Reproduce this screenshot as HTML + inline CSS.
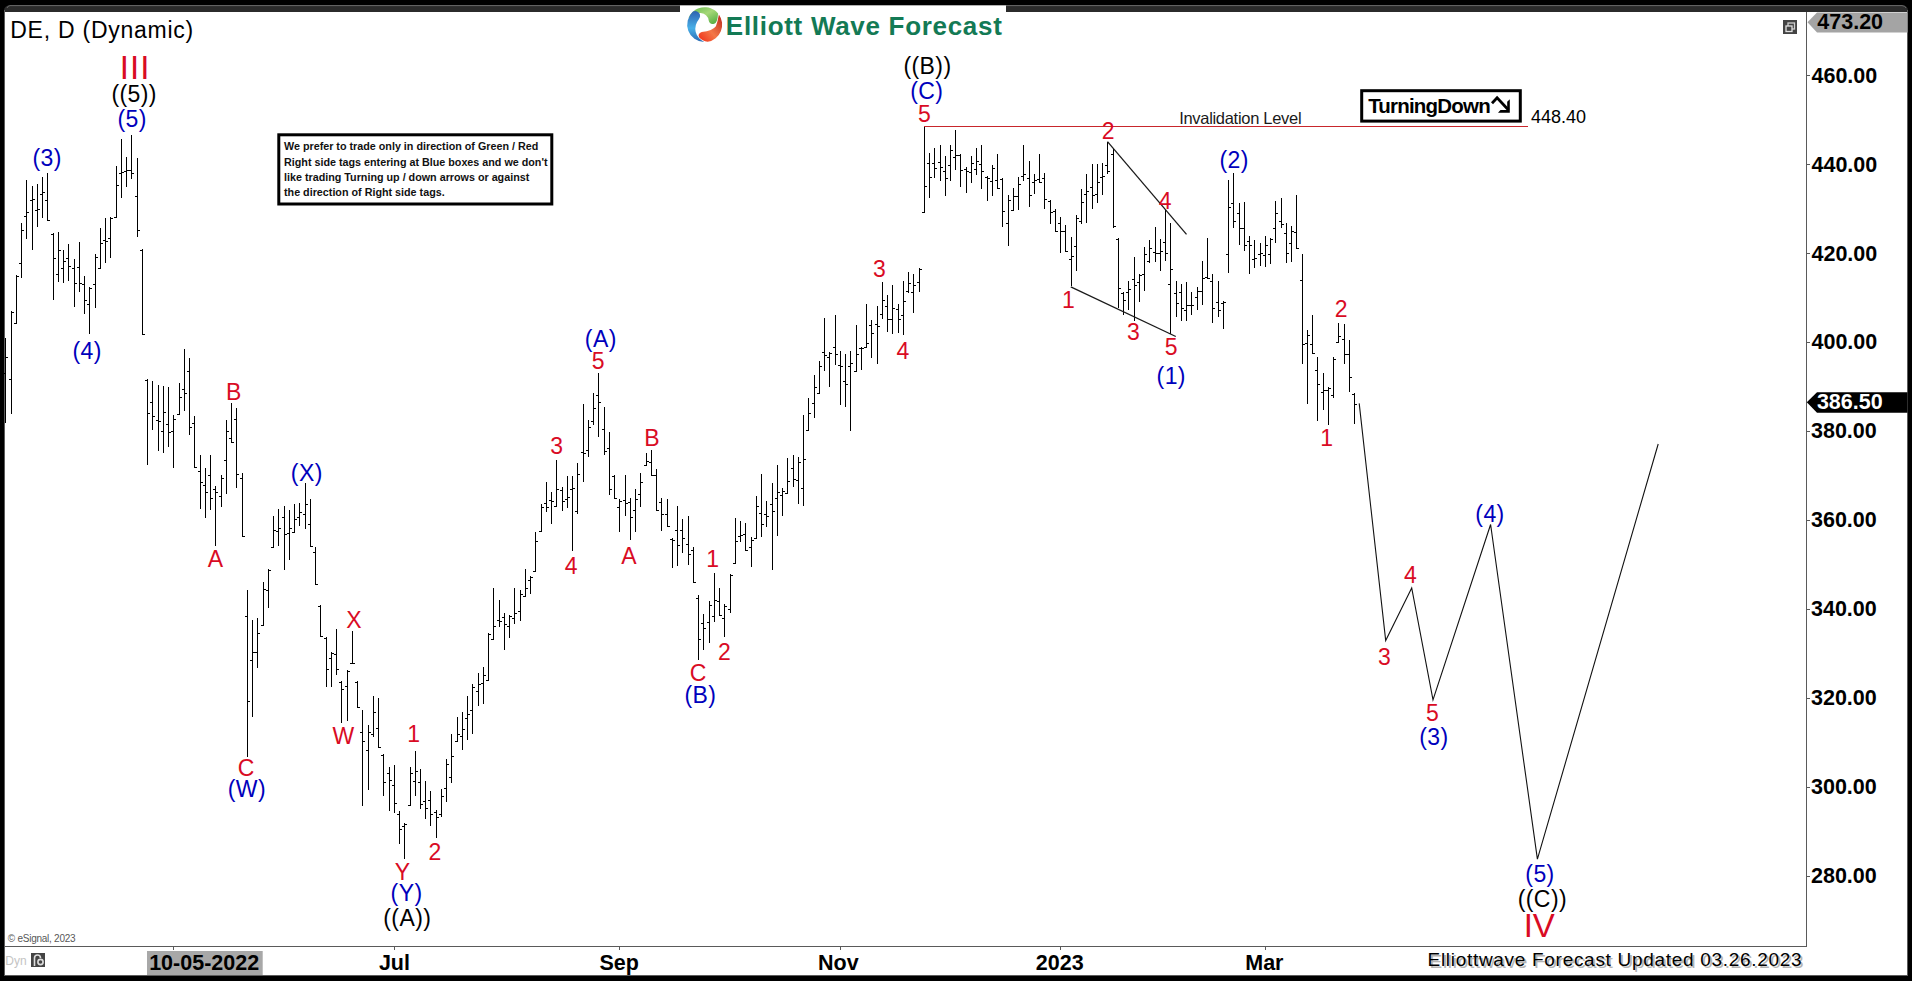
<!DOCTYPE html><html><head><meta charset="utf-8"><style>html,body{margin:0;padding:0;background:#000;width:1912px;height:981px;overflow:hidden}svg{position:absolute;left:0;top:0;display:block}text{font-family:"Liberation Sans", sans-serif;white-space:pre}</style></head><body>
<svg width="1912" height="981" viewBox="0 0 1912 981">
<rect x="0" y="0" width="1912" height="981" fill="#000"/>
<path d="M4 11 Q4 5.5 9.5 5.5 L1902.5 5.5 Q1908 5.5 1908 11 L1908 976 L4 976 Z" fill="#2b2b2b"/>
<path d="M7 8 Q7.5 5.8 10 5.6 L1902 5.6 Q1905.5 5.8 1906 8" fill="none" stroke="#6a6a6a" stroke-width="1"/>
<g shape-rendering="crispEdges"><rect x="4" y="10" width="1" height="966" fill="#5c5c5c"/><rect x="1907" y="10" width="1" height="966" fill="#5c5c5c"/><rect x="4" y="975" width="1904" height="1" fill="#5c5c5c"/>
<rect x="5" y="12" width="1902" height="963" fill="#fff"/></g>
<rect x="680" y="5.5" width="326" height="8" fill="#fff"/>
<g shape-rendering="crispEdges">
<rect x="1806" y="12" width="1" height="935" fill="#5a5a5a"/>
<rect x="5" y="946" width="1802" height="1" fill="#5a5a5a"/>
<rect x="173" y="946" width="1" height="4" fill="#5a5a5a"/>
<rect x="394" y="946" width="1" height="4" fill="#5a5a5a"/>
<rect x="619" y="946" width="1" height="4" fill="#5a5a5a"/>
<rect x="840" y="946" width="1" height="4" fill="#5a5a5a"/>
<rect x="1060" y="946" width="1" height="4" fill="#5a5a5a"/>
<rect x="1265" y="946" width="1" height="4" fill="#5a5a5a"/>
<rect x="1806" y="75" width="4" height="1" fill="#5a5a5a"/>
<rect x="1806" y="164" width="4" height="1" fill="#5a5a5a"/>
<rect x="1806" y="253" width="4" height="1" fill="#5a5a5a"/>
<rect x="1806" y="342" width="4" height="1" fill="#5a5a5a"/>
<rect x="1806" y="431" width="4" height="1" fill="#5a5a5a"/>
<rect x="1806" y="520" width="4" height="1" fill="#5a5a5a"/>
<rect x="1806" y="609" width="4" height="1" fill="#5a5a5a"/>
<rect x="1806" y="698" width="4" height="1" fill="#5a5a5a"/>
<rect x="1806" y="787" width="4" height="1" fill="#5a5a5a"/>
<rect x="1806" y="876" width="4" height="1" fill="#5a5a5a"/>
</g>
<path shape-rendering="crispEdges" fill="#000" d="M5 338h1v85h-1zM3 373h2v1h-2zM6 357h2v1h-2zM11 311h1v103h-1zM9 379h2v1h-2zM12 312h2v1h-2zM16 275h1v49h-1zM14 323h2v1h-2zM17 276h2v1h-2zM21 223h1v55h-1zM19 263h2v1h-2zM22 230h2v1h-2zM26 180h1v59h-1zM24 216h2v1h-2zM27 212h2v1h-2zM32 186h1v64h-1zM30 200h2v1h-2zM33 199h2v1h-2zM37 184h1v43h-1zM35 210h2v1h-2zM38 209h2v1h-2zM42 177h1v41h-1zM40 194h2v1h-2zM43 192h2v1h-2zM47 173h1v48h-1zM45 200h2v1h-2zM48 220h2v1h-2zM53 233h1v67h-1zM51 234h2v1h-2zM54 258h2v1h-2zM58 232h1v50h-1zM56 274h2v1h-2zM59 250h2v1h-2zM63 250h1v33h-1zM61 268h2v1h-2zM64 261h2v1h-2zM68 244h1v37h-1zM66 258h2v1h-2zM69 266h2v1h-2zM74 259h1v48h-1zM72 268h2v1h-2zM75 283h2v1h-2zM79 242h1v50h-1zM77 267h2v1h-2zM80 283h2v1h-2zM84 276h1v38h-1zM82 284h2v1h-2zM85 300h2v1h-2zM89 287h1v47h-1zM87 304h2v1h-2zM90 288h2v1h-2zM95 254h1v54h-1zM93 284h2v1h-2zM96 257h2v1h-2zM100 228h1v41h-1zM98 268h2v1h-2zM101 243h2v1h-2zM105 218h1v45h-1zM103 240h2v1h-2zM106 241h2v1h-2zM110 217h1v41h-1zM108 238h2v1h-2zM111 218h2v1h-2zM116 166h1v52h-1zM114 217h2v1h-2zM117 185h2v1h-2zM121 139h1v59h-1zM119 173h2v1h-2zM122 172h2v1h-2zM126 157h1v30h-1zM124 171h2v1h-2zM127 170h2v1h-2zM131 135h1v44h-1zM129 170h2v1h-2zM132 173h2v1h-2zM137 158h1v79h-1zM135 196h2v1h-2zM138 230h2v1h-2zM142 249h1v86h-1zM140 250h2v1h-2zM143 334h2v1h-2zM147 379h1v86h-1zM145 380h2v1h-2zM148 413h2v1h-2zM152 381h1v49h-1zM150 402h2v1h-2zM153 416h2v1h-2zM158 385h1v66h-1zM156 420h2v1h-2zM159 421h2v1h-2zM163 386h1v67h-1zM161 431h2v1h-2zM164 412h2v1h-2zM168 387h1v60h-1zM166 424h2v1h-2zM169 432h2v1h-2zM173 415h1v53h-1zM171 431h2v1h-2zM174 419h2v1h-2zM179 383h1v32h-1zM177 414h2v1h-2zM180 397h2v1h-2zM184 349h1v62h-1zM182 389h2v1h-2zM185 393h2v1h-2zM189 358h1v77h-1zM187 371h2v1h-2zM190 427h2v1h-2zM194 416h1v52h-1zM192 423h2v1h-2zM195 467h2v1h-2zM200 455h1v54h-1zM198 471h2v1h-2zM201 482h2v1h-2zM205 468h1v50h-1zM203 485h2v1h-2zM206 492h2v1h-2zM210 455h1v55h-1zM208 475h2v1h-2zM211 498h2v1h-2zM215 486h1v60h-1zM213 489h2v1h-2zM216 492h2v1h-2zM221 475h1v32h-1zM219 496h2v1h-2zM222 478h2v1h-2zM226 420h1v74h-1zM224 460h2v1h-2zM227 431h2v1h-2zM231 403h1v40h-1zM229 438h2v1h-2zM232 442h2v1h-2zM236 408h1v80h-1zM234 419h2v1h-2zM237 474h2v1h-2zM242 473h1v64h-1zM240 478h2v1h-2zM243 536h2v1h-2zM247 590h1v167h-1zM245 616h2v1h-2zM248 701h2v1h-2zM252 620h1v97h-1zM250 660h2v1h-2zM253 652h2v1h-2zM257 618h1v50h-1zM255 652h2v1h-2zM258 633h2v1h-2zM263 582h1v44h-1zM261 625h2v1h-2zM264 589h2v1h-2zM268 569h1v39h-1zM266 590h2v1h-2zM269 570h2v1h-2zM273 516h1v32h-1zM271 547h2v1h-2zM274 530h2v1h-2zM278 509h1v37h-1zM276 531h2v1h-2zM279 528h2v1h-2zM284 506h1v64h-1zM282 517h2v1h-2zM285 534h2v1h-2zM289 510h1v50h-1zM287 533h2v1h-2zM290 528h2v1h-2zM294 504h1v29h-1zM292 532h2v1h-2zM295 519h2v1h-2zM299 503h1v23h-1zM297 517h2v1h-2zM300 512h2v1h-2zM305 483h1v46h-1zM303 514h2v1h-2zM306 504h2v1h-2zM310 499h1v48h-1zM308 524h2v1h-2zM311 546h2v1h-2zM315 547h1v38h-1zM313 552h2v1h-2zM316 584h2v1h-2zM320 605h1v32h-1zM318 606h2v1h-2zM321 636h2v1h-2zM326 637h1v50h-1zM324 638h2v1h-2zM327 669h2v1h-2zM331 652h1v35h-1zM329 658h2v1h-2zM332 653h2v1h-2zM336 629h1v46h-1zM334 654h2v1h-2zM337 669h2v1h-2zM341 681h1v42h-1zM339 682h2v1h-2zM342 689h2v1h-2zM347 670h1v51h-1zM345 686h2v1h-2zM348 671h2v1h-2zM352 631h1v33h-1zM350 663h2v1h-2zM353 663h2v1h-2zM357 681h1v27h-1zM355 682h2v1h-2zM358 707h2v1h-2zM362 710h1v96h-1zM360 732h2v1h-2zM363 741h2v1h-2zM368 725h1v65h-1zM366 750h2v1h-2zM369 732h2v1h-2zM373 696h1v41h-1zM371 734h2v1h-2zM374 712h2v1h-2zM378 698h1v50h-1zM376 728h2v1h-2zM379 747h2v1h-2zM383 754h1v42h-1zM381 755h2v1h-2zM384 782h2v1h-2zM389 767h1v44h-1zM387 773h2v1h-2zM390 780h2v1h-2zM394 765h1v48h-1zM392 785h2v1h-2zM395 803h2v1h-2zM399 811h1v33h-1zM397 814h2v1h-2zM400 829h2v1h-2zM404 823h1v36h-1zM402 826h2v1h-2zM405 824h2v1h-2zM410 767h1v39h-1zM408 805h2v1h-2zM411 773h2v1h-2zM415 751h1v45h-1zM413 781h2v1h-2zM416 771h2v1h-2zM420 769h1v40h-1zM418 782h2v1h-2zM421 804h2v1h-2zM425 781h1v38h-1zM423 801h2v1h-2zM426 808h2v1h-2zM430 791h1v35h-1zM428 800h2v1h-2zM431 814h2v1h-2zM436 810h1v28h-1zM434 812h2v1h-2zM437 817h2v1h-2zM441 789h1v28h-1zM439 814h2v1h-2zM442 796h2v1h-2zM446 759h1v43h-1zM444 788h2v1h-2zM447 764h2v1h-2zM451 734h1v49h-1zM449 777h2v1h-2zM452 756h2v1h-2zM457 717h1v25h-1zM455 741h2v1h-2zM458 734h2v1h-2zM462 712h1v38h-1zM460 736h2v1h-2zM463 729h2v1h-2zM467 696h1v44h-1zM465 718h2v1h-2zM468 714h2v1h-2zM472 684h1v50h-1zM470 710h2v1h-2zM473 687h2v1h-2zM478 673h1v33h-1zM476 691h2v1h-2zM479 684h2v1h-2zM483 667h1v37h-1zM481 683h2v1h-2zM484 675h2v1h-2zM488 633h1v48h-1zM486 680h2v1h-2zM489 634h2v1h-2zM493 588h1v52h-1zM491 639h2v1h-2zM494 626h2v1h-2zM499 600h1v27h-1zM497 620h2v1h-2zM500 621h2v1h-2zM504 613h1v37h-1zM502 617h2v1h-2zM505 624h2v1h-2zM509 615h1v23h-1zM507 626h2v1h-2zM510 616h2v1h-2zM514 588h1v36h-1zM512 618h2v1h-2zM515 613h2v1h-2zM520 590h1v31h-1zM518 611h2v1h-2zM521 594h2v1h-2zM525 569h1v28h-1zM523 596h2v1h-2zM526 588h2v1h-2zM530 576h1v18h-1zM528 580h2v1h-2zM531 577h2v1h-2zM535 532h1v40h-1zM533 571h2v1h-2zM536 541h2v1h-2zM541 504h1v28h-1zM539 531h2v1h-2zM542 507h2v1h-2zM546 482h1v30h-1zM544 503h2v1h-2zM547 507h2v1h-2zM551 492h1v32h-1zM549 500h2v1h-2zM552 501h2v1h-2zM556 460h1v47h-1zM554 506h2v1h-2zM557 489h2v1h-2zM562 487h1v24h-1zM560 490h2v1h-2zM563 501h2v1h-2zM567 476h1v32h-1zM565 499h2v1h-2zM568 497h2v1h-2zM572 476h1v75h-1zM570 489h2v1h-2zM573 488h2v1h-2zM577 463h1v51h-1zM575 511h2v1h-2zM578 474h2v1h-2zM583 404h1v78h-1zM581 452h2v1h-2zM584 453h2v1h-2zM588 420h1v37h-1zM586 450h2v1h-2zM589 427h2v1h-2zM593 393h1v32h-1zM591 421h2v1h-2zM594 408h2v1h-2zM598 373h1v64h-1zM596 395h2v1h-2zM599 402h2v1h-2zM604 407h1v48h-1zM602 429h2v1h-2zM605 451h2v1h-2zM609 432h1v63h-1zM607 448h2v1h-2zM610 489h2v1h-2zM614 475h1v24h-1zM612 476h2v1h-2zM615 498h2v1h-2zM619 499h1v33h-1zM617 507h2v1h-2zM620 501h2v1h-2zM625 475h1v41h-1zM623 500h2v1h-2zM626 503h2v1h-2zM630 498h1v42h-1zM628 502h2v1h-2zM631 517h2v1h-2zM635 489h1v43h-1zM633 510h2v1h-2zM636 499h2v1h-2zM640 473h1v34h-1zM638 494h2v1h-2zM641 482h2v1h-2zM646 453h1v13h-1zM644 465h2v1h-2zM647 461h2v1h-2zM651 450h1v26h-1zM649 462h2v1h-2zM652 475h2v1h-2zM656 469h1v42h-1zM654 475h2v1h-2zM657 510h2v1h-2zM661 498h1v33h-1zM659 502h2v1h-2zM662 514h2v1h-2zM667 499h1v28h-1zM665 514h2v1h-2zM668 526h2v1h-2zM672 538h1v30h-1zM670 539h2v1h-2zM673 540h2v1h-2zM677 506h1v60h-1zM675 530h2v1h-2zM678 545h2v1h-2zM682 519h1v34h-1zM680 530h2v1h-2zM683 538h2v1h-2zM688 516h1v49h-1zM686 544h2v1h-2zM689 554h2v1h-2zM693 547h1v36h-1zM691 550h2v1h-2zM694 582h2v1h-2zM698 595h1v65h-1zM696 598h2v1h-2zM699 639h2v1h-2zM703 614h1v36h-1zM701 623h2v1h-2zM704 628h2v1h-2zM709 601h1v42h-1zM707 622h2v1h-2zM710 605h2v1h-2zM714 573h1v49h-1zM712 616h2v1h-2zM715 600h2v1h-2zM719 588h1v28h-1zM717 601h2v1h-2zM720 615h2v1h-2zM724 604h1v33h-1zM722 618h2v1h-2zM725 606h2v1h-2zM730 574h1v39h-1zM728 609h2v1h-2zM731 575h2v1h-2zM735 518h1v46h-1zM733 563h2v1h-2zM736 541h2v1h-2zM740 521h1v21h-1zM738 536h2v1h-2zM741 535h2v1h-2zM745 523h1v28h-1zM743 534h2v1h-2zM746 550h2v1h-2zM751 537h1v30h-1zM749 547h2v1h-2zM752 540h2v1h-2zM756 496h1v43h-1zM754 538h2v1h-2zM757 506h2v1h-2zM761 474h1v63h-1zM759 513h2v1h-2zM762 524h2v1h-2zM766 501h1v26h-1zM764 514h2v1h-2zM767 516h2v1h-2zM772 483h1v87h-1zM770 504h2v1h-2zM773 511h2v1h-2zM777 465h1v71h-1zM775 498h2v1h-2zM778 492h2v1h-2zM782 488h1v28h-1zM780 495h2v1h-2zM783 491h2v1h-2zM787 458h1v36h-1zM785 493h2v1h-2zM788 481h2v1h-2zM793 455h1v32h-1zM791 468h2v1h-2zM794 479h2v1h-2zM798 457h1v47h-1zM796 480h2v1h-2zM799 462h2v1h-2zM803 415h1v91h-1zM801 488h2v1h-2zM804 459h2v1h-2zM808 398h1v33h-1zM806 430h2v1h-2zM809 413h2v1h-2zM814 375h1v43h-1zM812 403h2v1h-2zM815 387h2v1h-2zM819 361h1v33h-1zM817 393h2v1h-2zM820 366h2v1h-2zM824 318h1v53h-1zM822 352h2v1h-2zM825 355h2v1h-2zM829 352h1v35h-1zM827 357h2v1h-2zM830 353h2v1h-2zM835 315h1v50h-1zM833 347h2v1h-2zM836 354h2v1h-2zM840 351h1v54h-1zM838 365h2v1h-2zM841 366h2v1h-2zM845 354h1v53h-1zM843 381h2v1h-2zM846 384h2v1h-2zM850 351h1v80h-1zM848 366h2v1h-2zM851 363h2v1h-2zM856 325h1v47h-1zM854 371h2v1h-2zM857 354h2v1h-2zM861 347h1v23h-1zM859 348h2v1h-2zM862 348h2v1h-2zM866 304h1v44h-1zM864 347h2v1h-2zM867 343h2v1h-2zM871 320h1v38h-1zM869 325h2v1h-2zM872 333h2v1h-2zM877 306h1v58h-1zM875 324h2v1h-2zM878 326h2v1h-2zM882 282h1v37h-1zM880 314h2v1h-2zM883 300h2v1h-2zM887 295h1v37h-1zM885 306h2v1h-2zM888 319h2v1h-2zM892 285h1v49h-1zM890 319h2v1h-2zM893 308h2v1h-2zM898 304h1v29h-1zM896 309h2v1h-2zM899 319h2v1h-2zM903 281h1v54h-1zM901 315h2v1h-2zM904 301h2v1h-2zM908 272h1v21h-1zM906 291h2v1h-2zM909 283h2v1h-2zM913 274h1v39h-1zM911 292h2v1h-2zM914 285h2v1h-2zM919 268h1v24h-1zM917 282h2v1h-2zM920 269h2v1h-2zM924 127h1v86h-1zM922 212h2v1h-2zM925 186h2v1h-2zM929 153h1v45h-1zM927 163h2v1h-2zM930 177h2v1h-2zM934 148h1v30h-1zM932 163h2v1h-2zM935 168h2v1h-2zM940 145h1v36h-1zM938 162h2v1h-2zM941 167h2v1h-2zM945 156h1v40h-1zM943 171h2v1h-2zM946 178h2v1h-2zM950 145h1v36h-1zM948 165h2v1h-2zM951 150h2v1h-2zM955 130h1v40h-1zM953 157h2v1h-2zM956 155h2v1h-2zM960 154h1v33h-1zM958 155h2v1h-2zM961 170h2v1h-2zM966 167h1v26h-1zM964 169h2v1h-2zM967 171h2v1h-2zM971 156h1v27h-1zM969 172h2v1h-2zM972 163h2v1h-2zM976 148h1v27h-1zM974 169h2v1h-2zM977 161h2v1h-2zM981 145h1v44h-1zM979 164h2v1h-2zM982 171h2v1h-2zM987 176h1v25h-1zM985 177h2v1h-2zM988 178h2v1h-2zM992 165h1v31h-1zM990 181h2v1h-2zM993 168h2v1h-2zM997 154h1v35h-1zM995 180h2v1h-2zM998 188h2v1h-2zM1002 178h1v49h-1zM1000 179h2v1h-2zM1003 211h2v1h-2zM1008 195h1v51h-1zM1006 223h2v1h-2zM1009 200h2v1h-2zM1013 188h1v23h-1zM1011 210h2v1h-2zM1014 196h2v1h-2zM1018 177h1v33h-1zM1016 196h2v1h-2zM1019 184h2v1h-2zM1023 145h1v36h-1zM1021 176h2v1h-2zM1024 174h2v1h-2zM1029 161h1v46h-1zM1027 178h2v1h-2zM1030 195h2v1h-2zM1034 174h1v20h-1zM1032 182h2v1h-2zM1035 180h2v1h-2zM1039 154h1v29h-1zM1037 179h2v1h-2zM1040 182h2v1h-2zM1044 173h1v36h-1zM1042 178h2v1h-2zM1045 199h2v1h-2zM1050 200h1v24h-1zM1048 201h2v1h-2zM1051 212h2v1h-2zM1055 209h1v23h-1zM1053 211h2v1h-2zM1056 231h2v1h-2zM1060 217h1v36h-1zM1058 223h2v1h-2zM1061 231h2v1h-2zM1065 225h1v27h-1zM1063 231h2v1h-2zM1066 251h2v1h-2zM1071 237h1v49h-1zM1069 259h2v1h-2zM1072 256h2v1h-2zM1076 215h1v56h-1zM1074 246h2v1h-2zM1077 218h2v1h-2zM1081 189h1v35h-1zM1079 221h2v1h-2zM1082 202h2v1h-2zM1086 174h1v49h-1zM1084 194h2v1h-2zM1087 191h2v1h-2zM1092 164h1v45h-1zM1090 187h2v1h-2zM1093 195h2v1h-2zM1097 164h1v39h-1zM1095 194h2v1h-2zM1098 182h2v1h-2zM1102 163h1v32h-1zM1100 177h2v1h-2zM1103 176h2v1h-2zM1107 142h1v32h-1zM1105 165h2v1h-2zM1108 171h2v1h-2zM1113 149h1v79h-1zM1111 154h2v1h-2zM1114 226h2v1h-2zM1118 238h1v70h-1zM1116 239h2v1h-2zM1119 288h2v1h-2zM1123 292h1v23h-1zM1121 293h2v1h-2zM1124 300h2v1h-2zM1128 281h1v29h-1zM1126 292h2v1h-2zM1129 289h2v1h-2zM1134 257h1v64h-1zM1132 279h2v1h-2zM1135 285h2v1h-2zM1139 274h1v28h-1zM1137 282h2v1h-2zM1140 275h2v1h-2zM1144 247h1v44h-1zM1142 274h2v1h-2zM1145 254h2v1h-2zM1149 240h1v23h-1zM1147 261h2v1h-2zM1150 248h2v1h-2zM1155 227h1v35h-1zM1153 252h2v1h-2zM1156 253h2v1h-2zM1160 239h1v32h-1zM1158 253h2v1h-2zM1161 251h2v1h-2zM1165 210h1v51h-1zM1163 242h2v1h-2zM1166 253h2v1h-2zM1170 223h1v111h-1zM1168 284h2v1h-2zM1171 269h2v1h-2zM1176 281h1v36h-1zM1174 293h2v1h-2zM1177 303h2v1h-2zM1181 284h1v37h-1zM1179 292h2v1h-2zM1182 308h2v1h-2zM1186 282h1v39h-1zM1184 310h2v1h-2zM1187 305h2v1h-2zM1191 292h1v23h-1zM1189 305h2v1h-2zM1192 305h2v1h-2zM1197 287h1v23h-1zM1195 297h2v1h-2zM1198 291h2v1h-2zM1202 261h1v44h-1zM1200 291h2v1h-2zM1203 278h2v1h-2zM1207 238h1v41h-1zM1205 277h2v1h-2zM1208 278h2v1h-2zM1212 274h1v49h-1zM1210 281h2v1h-2zM1213 308h2v1h-2zM1218 281h1v36h-1zM1216 302h2v1h-2zM1219 310h2v1h-2zM1223 301h1v28h-1zM1221 303h2v1h-2zM1224 302h2v1h-2zM1228 180h1v93h-1zM1226 254h2v1h-2zM1229 207h2v1h-2zM1233 173h1v55h-1zM1231 203h2v1h-2zM1234 221h2v1h-2zM1239 203h1v42h-1zM1237 213h2v1h-2zM1240 228h2v1h-2zM1244 202h1v49h-1zM1242 228h2v1h-2zM1245 245h2v1h-2zM1249 236h1v38h-1zM1247 241h2v1h-2zM1250 245h2v1h-2zM1254 240h1v28h-1zM1252 259h2v1h-2zM1255 258h2v1h-2zM1260 243h1v23h-1zM1258 254h2v1h-2zM1261 253h2v1h-2zM1265 236h1v31h-1zM1263 255h2v1h-2zM1266 245h2v1h-2zM1270 238h1v26h-1zM1268 254h2v1h-2zM1271 239h2v1h-2zM1275 201h1v42h-1zM1273 228h2v1h-2zM1276 213h2v1h-2zM1281 198h1v30h-1zM1279 221h2v1h-2zM1282 224h2v1h-2zM1286 223h1v40h-1zM1284 233h2v1h-2zM1287 253h2v1h-2zM1291 226h1v36h-1zM1289 243h2v1h-2zM1292 231h2v1h-2zM1296 195h1v54h-1zM1294 232h2v1h-2zM1297 248h2v1h-2zM1302 254h1v110h-1zM1300 280h2v1h-2zM1303 344h2v1h-2zM1307 330h1v74h-1zM1305 343h2v1h-2zM1308 335h2v1h-2zM1312 315h1v39h-1zM1310 344h2v1h-2zM1313 353h2v1h-2zM1317 357h1v64h-1zM1315 370h2v1h-2zM1318 384h2v1h-2zM1323 373h1v37h-1zM1321 392h2v1h-2zM1324 390h2v1h-2zM1328 387h1v38h-1zM1326 390h2v1h-2zM1329 388h2v1h-2zM1333 357h1v41h-1zM1331 395h2v1h-2zM1334 359h2v1h-2zM1338 323h1v20h-1zM1336 342h2v1h-2zM1339 336h2v1h-2zM1344 324h1v40h-1zM1342 339h2v1h-2zM1345 354h2v1h-2zM1349 340h1v52h-1zM1347 354h2v1h-2zM1350 377h2v1h-2zM1354 393h1v31h-1zM1352 394h2v1h-2zM1355 404h2v1h-2z"/>
<rect shape-rendering="crispEdges" x="924" y="126" width="604" height="1" fill="#c8262c"/>
<g stroke="#1a1a1a" stroke-width="1.3" fill="none">
<line x1="1107.5" y1="141.7" x2="1186.5" y2="234.4"/>
<line x1="1070.8" y1="286.8" x2="1175.8" y2="336.5"/>
</g>
<polyline fill="none" stroke="#111" stroke-width="1.1" points="1359.2,403.4 1385.7,640.5 1411.7,588 1433,699.8 1490.6,524.5 1537.4,859.2 1658.2,444"/>
<rect x="278.8" y="134.8" width="273" height="69.2" fill="#fff" stroke="#000" stroke-width="3"/>
<rect x="1361.7" y="90.7" width="158.6" height="30.4" fill="#fff" stroke="#000" stroke-width="3"/>
<path d="M1492 103.3 L1497.1 97.9 L1508.5 110" fill="none" stroke="#000" stroke-width="2.8" stroke-linejoin="miter"/>
<path d="M1509.8 99.3 L1509.8 112.7 L1498 112.7 L1500.5 110.1 L1507.2 110.1 L1507.2 101.8 Z" fill="#000"/>
<path d="M1807.5 22.3 L1817 12.5 L1907.5 12.5 L1907.5 32.5 L1817 32.5 Z" fill="#a4a4a4"/>
<path d="M1806.8 402.3 L1817 392.2 L1907.5 392.2 L1907.5 412.8 L1817 412.8 Z" fill="#000"/>
<rect x="1783" y="20" width="14" height="14" fill="#444"/>
<rect x="1788" y="23" width="6.5" height="6" fill="none" stroke="#cfcfcf" stroke-width="1.3"/>
<rect x="1786" y="26" width="6" height="5.5" fill="#444" stroke="#e0e0e0" stroke-width="1.3"/>
<rect x="31" y="953" width="14" height="14" fill="#444"/>
<path d="M34.5 966 V958 Q34.5 955 37.5 955 Q40.5 955 40.5 958" fill="none" stroke="#ddd" stroke-width="1.6"/>
<circle cx="40.5" cy="962" r="2.6" fill="none" stroke="#ddd" stroke-width="1.6"/>
<rect x="147" y="951" width="115.7" height="24" fill="#a8a8a8"/>
<g transform="translate(704.7 24.6)">
<defs><linearGradient id="gg" x1="0" y1="0" x2="1" y2="1"><stop offset="0" stop-color="#5fb84a"/><stop offset="0.5" stop-color="#a6d878"/><stop offset="1" stop-color="#4aa83a"/></linearGradient><linearGradient id="gr" x1="1" y1="0" x2="0" y2="1"><stop offset="0" stop-color="#b8281c"/><stop offset="0.55" stop-color="#f47848"/><stop offset="1" stop-color="#f02a14"/></linearGradient><linearGradient id="gb" x1="0" y1="0" x2="0" y2="1"><stop offset="0" stop-color="#2f62b0"/><stop offset="0.55" stop-color="#48b0e8"/><stop offset="1" stop-color="#2a68b0"/></linearGradient></defs>
<path d="M-16.4 -6 A17.5 17.5 0 0 1 13.4 -11.2 Q12.8 -2 9.5 -0.8 Q5 0.5 4 -4 Q3 -10.5 -4 -11.5 Q-12 -11.5 -16.4 -6 Z" fill="url(#gg)"/>
<path d="M14.2 -10.2 A17.5 17.5 0 0 1 3 17.2 Q-2.5 16.5 -5.5 13 Q-7.5 9 -3 7.5 Q8 6 11.2 1.6 Q13 -3 14.2 -10.2 Z" fill="url(#gr)"/>
<path d="M-0.5 17.5 A17.5 17.5 0 0 1 -11.7 -13 Q-8.5 -14.5 -5.5 -11.5 Q-3.5 -8.5 -6 -5 Q-10.5 0.5 -9 7.5 Q-7.5 13.5 -0.5 17.5 Z" fill="url(#gb)"/>
</g>
<text id="title" x="10.25" y="37.90" font-size="23.00" font-weight="400" fill="#000000" letter-spacing="0.75">DE, D (Dynamic)</text>
<text id="III" x="119.85" y="79.00" font-size="33.00" font-weight="400" fill="#d90b24" letter-spacing="1.0">III</text>
<text id="p5a" x="111.50" y="102.35" font-size="23.00" font-weight="400" fill="#000000" letter-spacing="0.4">((5))</text>
<text id="b5a" x="117.45" y="127.15" font-size="23.00" font-weight="400" fill="#0000bc" letter-spacing="0.4">(5)</text>
<text id="b3a" x="32.40" y="166.20" font-size="23.00" font-weight="400" fill="#0000bc" letter-spacing="0.4">(3)</text>
<text id="b4a" x="72.55" y="358.70" font-size="23.00" font-weight="400" fill="#0000bc" letter-spacing="0.4">(4)</text>
<text id="rB1" x="226.10" y="399.85" font-size="23.00" font-weight="400" fill="#d90b24">B</text>
<text id="bX" x="290.85" y="480.60" font-size="23.00" font-weight="400" fill="#0000bc" letter-spacing="0.4">(X)</text>
<text id="rA1" x="207.85" y="567.35" font-size="23.00" font-weight="400" fill="#d90b24">A</text>
<text id="rC1" x="237.85" y="776.25" font-size="23.00" font-weight="400" fill="#d90b24">C</text>
<text id="bW" x="227.75" y="796.75" font-size="23.00" font-weight="400" fill="#0000bc" letter-spacing="0.4">(W)</text>
<text id="rX" x="346.25" y="628.25" font-size="23.00" font-weight="400" fill="#d90b24">X</text>
<text id="rW" x="332.60" y="744.20" font-size="23.00" font-weight="400" fill="#d90b24">W</text>
<text id="r1a" x="407.35" y="742.35" font-size="23.00" font-weight="400" fill="#d90b24">1</text>
<text id="r2a" x="428.60" y="859.75" font-size="23.00" font-weight="400" fill="#d90b24">2</text>
<text id="rY" x="394.75" y="879.70" font-size="23.00" font-weight="400" fill="#d90b24">Y</text>
<text id="bY" x="390.60" y="901.05" font-size="23.00" font-weight="400" fill="#0000bc" letter-spacing="0.4">(Y)</text>
<text id="pA" x="383.30" y="925.90" font-size="23.00" font-weight="400" fill="#000000" letter-spacing="0.4">((A))</text>
<text id="bA" x="584.85" y="347.40" font-size="23.00" font-weight="400" fill="#0000bc" letter-spacing="0.4">(A)</text>
<text id="r5b" x="591.85" y="368.60" font-size="23.00" font-weight="400" fill="#d90b24">5</text>
<text id="r3b" x="550.35" y="454.10" font-size="23.00" font-weight="400" fill="#d90b24">3</text>
<text id="r4b" x="564.65" y="573.95" font-size="23.00" font-weight="400" fill="#d90b24">4</text>
<text id="rB2" x="644.25" y="445.50" font-size="23.00" font-weight="400" fill="#d90b24">B</text>
<text id="rA2" x="621.35" y="563.70" font-size="23.00" font-weight="400" fill="#d90b24">A</text>
<text id="r1c" x="706.15" y="567.20" font-size="23.00" font-weight="400" fill="#d90b24">1</text>
<text id="r2c" x="717.88" y="660.40" font-size="23.00" font-weight="400" fill="#d90b24">2</text>
<text id="rC2" x="689.85" y="681.10" font-size="23.00" font-weight="400" fill="#d90b24">C</text>
<text id="bB" x="684.50" y="703.45" font-size="23.00" font-weight="400" fill="#0000bc" letter-spacing="0.4">(B)</text>
<text id="r3d" x="873.05" y="277.25" font-size="23.00" font-weight="400" fill="#d90b24">3</text>
<text id="r4d" x="896.50" y="358.75" font-size="23.00" font-weight="400" fill="#d90b24">4</text>
<text id="pB" x="903.50" y="74.45" font-size="23.00" font-weight="400" fill="#000000" letter-spacing="0.4">((B))</text>
<text id="bC" x="910.30" y="99.45" font-size="23.00" font-weight="400" fill="#0000bc" letter-spacing="0.4">(C)</text>
<text id="r5e" x="917.95" y="122.00" font-size="23.00" font-weight="400" fill="#d90b24">5</text>
<text id="r2f" x="1101.65" y="139.15" font-size="23.00" font-weight="400" fill="#d90b24">2</text>
<text id="r4f" x="1158.75" y="208.80" font-size="23.00" font-weight="400" fill="#d90b24">4</text>
<text id="r1f" x="1062.10" y="308.15" font-size="23.00" font-weight="400" fill="#d90b24">1</text>
<text id="r3f" x="1127.05" y="340.10" font-size="23.00" font-weight="400" fill="#d90b24">3</text>
<text id="r5f" x="1164.85" y="354.75" font-size="23.00" font-weight="400" fill="#d90b24">5</text>
<text id="b1" x="1156.60" y="383.55" font-size="23.00" font-weight="400" fill="#0000bc" letter-spacing="0.4">(1)</text>
<text id="b2" x="1219.45" y="168.45" font-size="23.00" font-weight="400" fill="#0000bc" letter-spacing="0.4">(2)</text>
<text id="r2g" x="1334.75" y="317.35" font-size="23.00" font-weight="400" fill="#d90b24">2</text>
<text id="r1g" x="1320.15" y="446.15" font-size="23.00" font-weight="400" fill="#d90b24">1</text>
<text id="r3h" x="1378.10" y="664.65" font-size="23.00" font-weight="400" fill="#d90b24">3</text>
<text id="r4h" x="1404.00" y="583.25" font-size="23.00" font-weight="400" fill="#d90b24">4</text>
<text id="r5h" x="1425.90" y="720.80" font-size="23.00" font-weight="400" fill="#d90b24">5</text>
<text id="b3h" x="1419.15" y="744.50" font-size="23.00" font-weight="400" fill="#0000bc" letter-spacing="0.4">(3)</text>
<text id="b4h" x="1475.35" y="522.00" font-size="23.00" font-weight="400" fill="#0000bc" letter-spacing="0.4">(4)</text>
<text id="b5h" x="1525.35" y="882.45" font-size="23.00" font-weight="400" fill="#0000bc" letter-spacing="0.4">(5)</text>
<text id="pC" x="1517.75" y="906.60" font-size="23.00" font-weight="400" fill="#000000" letter-spacing="0.4">((C))</text>
<text id="IV" x="1523.70" y="936.95" font-size="33.00" font-weight="400" fill="#d90b24">IV</text>
<text id="inval" x="1179.15" y="124.20" font-size="16.50" font-weight="400" fill="#1a1a1a" letter-spacing="-0.3">Invalidation Level</text>
<text id="p448" x="1530.90" y="122.55" font-size="18.00" font-weight="400" fill="#000000">448.40</text>
<text id="turn" x="1368.15" y="112.55" font-size="20.50" font-weight="700" fill="#000000" letter-spacing="-0.8">TurningDown</text>
<text x="1429.55" y="967.60" font-size="19.00" fill="#b4b4b4" letter-spacing="0.7">Elliottwave Forecast Updated 03.26.2023</text>
<text id="upd" x="1427.55" y="965.60" font-size="19.00" font-weight="400" fill="#000000" letter-spacing="0.7">Elliottwave Forecast Updated 03.26.2023</text>
<text id="logo" x="725.85" y="35.00" font-size="26.00" font-weight="700" fill="#137a55" letter-spacing="0.7">Elliott Wave Forecast</text>
<text id="esig" x="7.80" y="941.80" font-size="10.00" font-weight="400" fill="#585858" letter-spacing="-0.25">© eSignal, 2023</text>
<text id="dyn" x="5.35" y="964.80" font-size="12.00" font-weight="400" fill="#c4c4c4">Dyn</text>
<text id="d1005" x="149.15" y="969.80" font-size="21.50" font-weight="700" fill="#000000">10-05-2022</text>
<text id="jul" x="378.90" y="970.30" font-size="21.50" font-weight="700" fill="#000000">Jul</text>
<text id="sep" x="599.40" y="969.60" font-size="21.50" font-weight="700" fill="#000000">Sep</text>
<text id="nov" x="818.05" y="969.80" font-size="21.50" font-weight="700" fill="#000000">Nov</text>
<text id="y2023" x="1035.80" y="970.10" font-size="21.50" font-weight="700" fill="#000000">2023</text>
<text id="mar" x="1245.25" y="969.80" font-size="21.50" font-weight="700" fill="#000000">Mar</text>
<text id="p4732" x="1817.30" y="28.80" font-size="21.50" font-weight="700" fill="#000000">473.20</text>
<text id="p3865" x="1816.90" y="409.25" font-size="21.50" font-weight="700" fill="#ffffff">386.50</text>
<text id="y460" x="1811.50" y="82.60" font-size="21.50" font-weight="700" fill="#000000">460.00</text>
<text id="y440" x="1811.50" y="171.56" font-size="21.50" font-weight="700" fill="#000000">440.00</text>
<text id="y420" x="1811.50" y="260.52" font-size="21.50" font-weight="700" fill="#000000">420.00</text>
<text id="y400" x="1811.50" y="349.48" font-size="21.50" font-weight="700" fill="#000000">400.00</text>
<text id="y380" x="1811.00" y="438.44" font-size="21.50" font-weight="700" fill="#000000">380.00</text>
<text id="y360" x="1811.00" y="527.40" font-size="21.50" font-weight="700" fill="#000000">360.00</text>
<text id="y340" x="1811.00" y="616.36" font-size="21.50" font-weight="700" fill="#000000">340.00</text>
<text id="y320" x="1811.00" y="705.32" font-size="21.50" font-weight="700" fill="#000000">320.00</text>
<text id="y300" x="1811.00" y="794.28" font-size="21.50" font-weight="700" fill="#000000">300.00</text>
<text id="y280" x="1811.00" y="883.24" font-size="21.50" font-weight="700" fill="#000000">280.00</text>
<text id="box0" x="284.00" y="150.40" font-size="10.75" font-weight="700" fill="#111">We prefer to trade only in direction of Green / Red</text>
<text id="box1" x="284.00" y="165.57" font-size="10.75" font-weight="700" fill="#111">Right side tags entering at Blue boxes and we don't</text>
<text id="box2" x="284.00" y="180.74" font-size="10.75" font-weight="700" fill="#111">like trading Turning up / down arrows or against</text>
<text id="box3" x="284.00" y="195.91" font-size="10.75" font-weight="700" fill="#111">the direction of Right side tags.</text>
</svg></body></html>
